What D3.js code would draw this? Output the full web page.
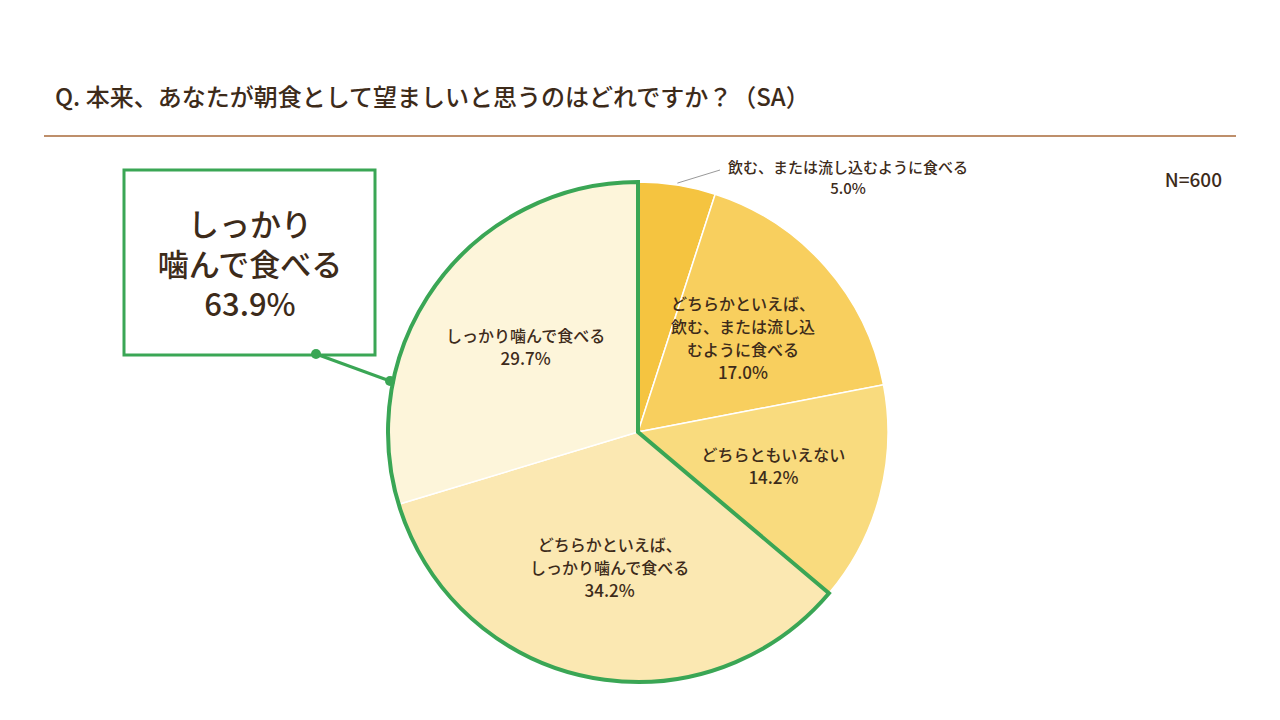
<!DOCTYPE html>
<html><head><meta charset="utf-8">
<script src="https://cdn.jsdelivr.net/npm/d3@7"></script>
<style>body{margin:0;background:#fff}text{font-family:"Noto Sans CJK JP",sans-serif;fill:#3d2b1a;font-weight:500}</style>
</head><body><div id="chart"></div>
<script>
var labels = [["飲む、または流し込むように食べる"], ["どちらかといえば、","飲む、または流し込","むように食べる"], ["どちらともいえない"], ["どちらかといえば、","しっかり噛んで食べる"], ["しっかり噛んで食べる"]];
var values = [5.0, 17.0, 14.2, 34.2, 29.7];
var colors = ["#f5c440", "#f8cf5e", "#f9db7e", "#fbe8b2", "#fdf5da"];

function init() {
	var width = 1280, height = 720;
	var cx = 638, cy = 432, r = 250;
	var green = "#3aa655";

	var svg = d3.select("#chart").append("svg").attr("width", width).attr("height", height);

	svg.append("text").attr("x", 55).attr("y", 106).attr("font-size", 24)
	   .text("Q.  本来、あなたが朝食として望ましいと思うのはどれですか？（SA）");
	svg.append("line").attr("x1", 44).attr("x2", 1236).attr("y1", 136).attr("y2", 136)
	   .attr("stroke", "#a86a3a").attr("stroke-width", 1.5);
	svg.append("text").attr("x", 1222).attr("y", 187).attr("font-size", 19)
	   .attr("text-anchor", "end").text("N=600");

	var pie = d3.pie().sort(null).value(function(d) { return d; });
	var arcs = pie(values);
	var arc = d3.arc().innerRadius(0).outerRadius(r);
	var g = svg.append("g").attr("transform", "translate(" + cx + "," + cy + ")");

	g.selectAll("path.slice").data(arcs).enter().append("path")
	 .attr("d", arc)
	 .attr("fill", function(d, i) { return colors[i]; })
	 .attr("stroke", "#fff").attr("stroke-width", 1.5);

	// green outline around the two "しっかり" slices
	var start = arcs[3].startAngle, end = arcs[4].endAngle;
	g.append("path")
	 .attr("d", d3.arc().innerRadius(0).outerRadius(r)({startAngle: start, endAngle: end}))
	 .attr("fill", "none").attr("stroke", green).attr("stroke-width", 4).attr("stroke-linejoin", "miter");

	var labelArc = d3.arc().innerRadius(140).outerRadius(140);
	arcs.forEach(function(d, i) {
		var lines = labels[i].concat([values[i].toFixed(1) + "%"]);
		var pos, lh = 23;
		if (i === 0) {
			lh = 21;
			var a = (d.startAngle + d.endAngle) / 2;
			var p1 = [Math.sin(a) * (r + 2), -Math.cos(a) * (r + 2)];
			g.append("line").attr("x1", p1[0]).attr("y1", p1[1])
			 .attr("x2", 720 - cx).attr("y2", 170 - cy)
			 .attr("stroke", "#999").attr("stroke-width", 1);
			pos = [848 - cx, 168 - cy + lh / 2];
		} else {
			pos = labelArc.centroid(d);
		}
		var t = g.append("text").attr("text-anchor", "middle").attr("font-size", i === 0 ? 15 : 16);
		var y0 = pos[1] - (lines.length - 1) * lh / 2 + 5;
		lines.forEach(function(s, k) {
			t.append("tspan").attr("x", pos[0]).attr("y", y0 + k * lh)
			 .attr("font-size", k === lines.length - 1 && i > 0 ? 17 : null).text(s);
		});
	});

	// callout
	svg.append("rect").attr("x", 124).attr("y", 170).attr("width", 251).attr("height", 185)
	   .attr("fill", "#fff").attr("stroke", green).attr("stroke-width", 3);
	var total = d3.sum(values.slice(3));
	var ct = svg.append("text").attr("text-anchor", "middle").attr("font-size", 31);
	["しっかり", "噛んで食べる", total.toFixed(1) + "%"].forEach(function(s, k) {
		ct.append("tspan").attr("x", 250).attr("y", 236 + k * 40).text(s);
	});
	svg.append("line").attr("x1", 316).attr("y1", 354).attr("x2", 390).attr("y2", 381)
	   .attr("stroke", green).attr("stroke-width", 3);
	svg.selectAll("circle.dot").data([[316, 354], [390, 381]]).enter().append("circle")
	   .attr("cx", function(d) { return d[0]; }).attr("cy", function(d) { return d[1]; })
	   .attr("r", 5).attr("fill", green);
}
window.onload = init;
</script></body></html>
